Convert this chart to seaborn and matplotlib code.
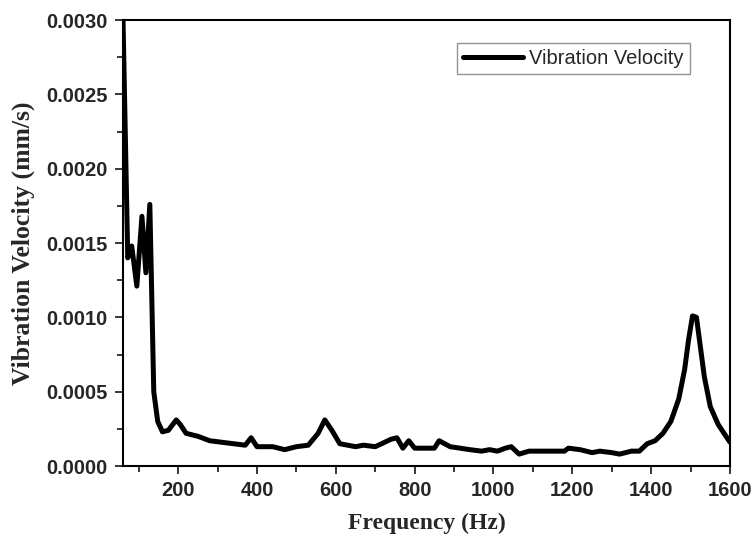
import matplotlib
matplotlib.use('Agg')

import pandas as pd
import seaborn as sns
import matplotlib.pyplot as plt
from matplotlib.ticker import MultipleLocator

# Values
freq = [60, 72, 82, 95, 108, 118, 128, 138, 148, 160, 175, 195, 205, 220, 250,
        280, 310, 340, 370, 385, 400, 440, 470, 500, 530, 555, 572, 590, 610,
        650, 670, 700, 740, 755, 770, 785, 800, 850, 862, 890, 940, 970, 990,
        1010, 1030, 1045, 1065, 1090, 1180, 1190, 1220, 1250, 1270, 1300, 1320,
        1350, 1370, 1390, 1410, 1430, 1450, 1470, 1485, 1495, 1505, 1515, 1525,
        1535, 1550, 1570, 1590, 1600]
velocity = [0.00300, 0.00140, 0.00148, 0.00121, 0.00168, 0.00130, 0.00176,
            0.00050, 0.00030, 0.00023, 0.00024, 0.00031, 0.00028, 0.00022,
            0.00020, 0.00017, 0.00016, 0.00015, 0.00014, 0.00019, 0.00013,
            0.00013, 0.00011, 0.00013, 0.00014, 0.00022, 0.00031, 0.00024,
            0.00015, 0.00013, 0.00014, 0.00013, 0.00018, 0.00019, 0.00012,
            0.00017, 0.00012, 0.00012, 0.00017, 0.00013, 0.00011, 0.00010,
            0.00011, 0.00010, 0.00012, 0.00013, 0.00008, 0.00010, 0.00010,
            0.00012, 0.00011, 0.00009, 0.00010, 0.00009, 0.00008, 0.00010,
            0.00010, 0.00015, 0.00017, 0.00022, 0.00030, 0.00045, 0.00065,
            0.00085, 0.00101, 0.00100, 0.00080, 0.00060, 0.00040, 0.00028,
            0.00020, 0.00016]

x_ticks = [200, 400, 600, 800, 1000, 1200, 1400, 1600]
y_ticks = [0.0000, 0.0005, 0.0010, 0.0015, 0.0020, 0.0025, 0.0030]

df = pd.DataFrame({'Frequency': freq, 'Vibration Velocity': velocity})

sns.set_style('ticks')
plt.rcParams['font.family'] = ['Liberation Sans', 'DejaVu Sans']

fig = plt.figure(figsize=(7.52, 5.42), dpi=100)
ax = fig.add_axes([0.1636, 0.1402, 0.8071, 0.8228])

sns.lineplot(data=df, x='Frequency', y='Vibration Velocity', color='black',
             linewidth=3.6, label='Vibration Velocity', ax=ax)

ax.set_xlim(60, 1600)
ax.set_ylim(0, 0.003)
ax.set_xticks(x_ticks)
ax.set_yticks(y_ticks)
ax.set_yticklabels(['%.4f' % v for v in y_ticks])
ax.xaxis.set_minor_locator(MultipleLocator(100))
ax.yaxis.set_minor_locator(MultipleLocator(0.00025))
ax.tick_params(which='major', length=6, width=1.3, direction='out',
               labelsize=14.5, pad=5)
ax.tick_params(which='minor', length=4, width=1.3, direction='out')
for lab in ax.get_xticklabels() + ax.get_yticklabels():
    lab.set_fontweight('bold')
for sp in ax.spines.values():
    sp.set_visible(True)
    sp.set_linewidth(1.5)
    sp.set_color('black')

ax.set_xlabel('Frequency (Hz)', fontfamily='Liberation Serif',
              fontweight='bold', fontsize=17, labelpad=9)
ax.set_ylabel('Vibration Velocity (mm/s)', fontfamily='Liberation Serif',
              fontweight='bold', fontsize=18.5, labelpad=8)

leg = ax.legend(loc='upper right', bbox_to_anchor=(0.934, 0.948),
                fontsize=14.5, frameon=True, fancybox=False, handlelength=3.0,
                borderpad=0.3, handletextpad=0.3, borderaxespad=0.0)
leg.get_frame().set_edgecolor('#777777')
leg.get_frame().set_linewidth(1.0)

fig.savefig('out.png', dpi=100)
